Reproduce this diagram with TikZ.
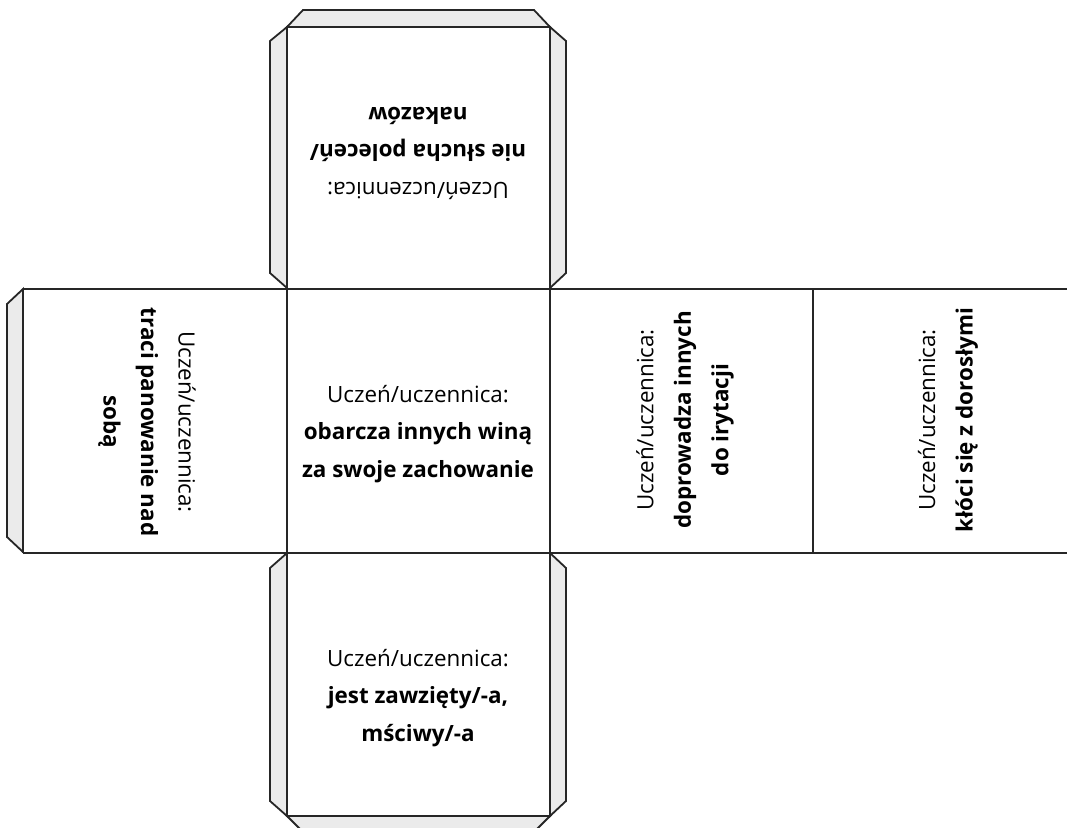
\documentclass[tikz,border=0pt]{standalone}
\usepackage{fontspec}
\setmainfont{Open Sans}
\begin{document}
\begin{tikzpicture}[x=1pt,y=-1pt,
  edge/.style={draw=black!85,line width=1.8pt,line join=miter},
  flap/.style={edge,fill=black!8},
  facetext/.style={align=center,inner sep=0pt,font=\fontsize{22.4}{37.5}\selectfont,text=black}]
\useasboundingbox (0,0) rectangle (1067,827);
\clip (0,0) rectangle (1067,827);

% glue flaps
\draw[flap] (287,27) -- (303,10) -- (534,10) -- (550,27) -- cycle;
\draw[flap] (287,27) -- (270,41) -- (270,273) -- (287,288) -- cycle;
\draw[flap] (550,27) -- (566,41) -- (566,273) -- (550,288) -- cycle;
\draw[flap] (23,289) -- (7,304) -- (7,537) -- (23,552) -- cycle;
\draw[flap] (287,553) -- (270,568) -- (270,801) -- (287,816) -- cycle;
\draw[flap] (550,553) -- (566,568) -- (566,801) -- (550,816) -- cycle;
\draw[flap] (287,816) -- (303,832) -- (534,832) -- (550,816) -- cycle;

% faces of the net
\coordinate (tl) at (287,27);  \coordinate (tr) at (550,27);
\coordinate (bl) at (287,816); \coordinate (br) at (550,816);
\draw[edge] (tl) -- (tr);
\draw[edge] (bl) -- (br);
\draw[edge] (tl) -- (bl);
\draw[edge] (tr) -- (br);
\draw[edge] (23,289) -- (1069,289);
\draw[edge] (23,553) -- (1069,553);
\draw[edge] (23,289) -- (23,553);
\draw[edge] (813,289) -- (813,553);

% face labels
\node[facetext,rotate=180] (top) at (418,153)
  {Uczeń/uczennica:\\\textbf{nie słucha poleceń/}\\\textbf{nakazów}};
\node[facetext] (mid) at (418,434)
  {Uczeń/uczennica:\\\textbf{obarcza innych winą}\\\textbf{za swoje zachowanie}};
\node[facetext,rotate=-90] (left) at (147,422)
  {Uczeń/uczennica:\\\textbf{traci panowanie nad}\\\textbf{sobą}};
\node[facetext,rotate=90] (right) at (685,420)
  {Uczeń/uczennica:\\\textbf{doprowadza innych}\\\textbf{do irytacji}};
\node[facetext,rotate=90] (far) at (948,420)
  {Uczeń/uczennica:\\\textbf{kłóci się z dorosłymi}};
\node[facetext] (bottom) at (418,698)
  {Uczeń/uczennica:\\\textbf{jest zawzięty/-a,}\\\textbf{mściwy/-a}};
\end{tikzpicture}
\end{document}
